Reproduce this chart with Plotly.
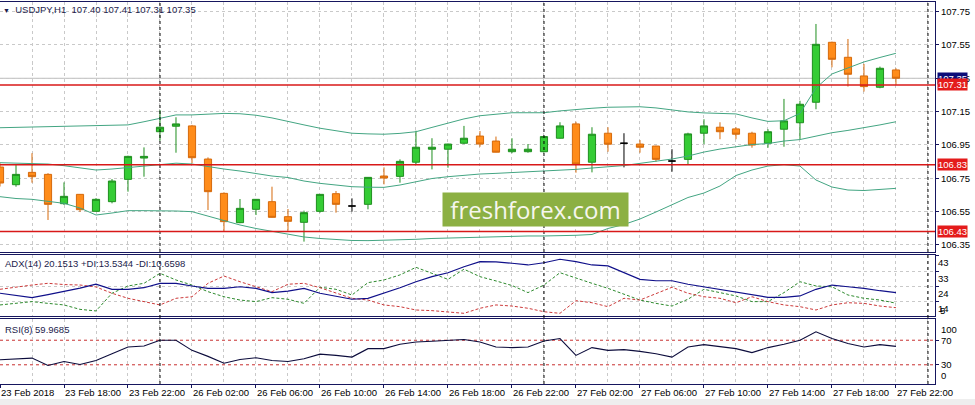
import plotly.graph_objects as go

# ---------------- data ----------------
bar_index = list(range(57))  # H1 bars from 23 Feb 14:00 to 27 Feb 22:00

open_ = [106.817, 106.711, 106.785, 106.773, 106.597, 106.653, 106.551, 106.609, 106.743, 106.871,
         107.029, 107.062, 107.064, 106.865, 106.659, 106.483, 106.563, 106.609, 106.519, 106.485,
         106.551, 106.657, 106.583, 106.593, 106.763, 106.761, 106.846, 106.924, 106.924, 106.960,
         107.003, 106.973, 106.909, 106.909, 106.909, 106.990, 107.076, 106.846, 107.020, 106.960,
         106.955, 106.943, 106.853, 106.863, 107.020, 107.056, 107.046, 107.020, 106.960, 107.044,
         107.083, 107.206, 107.566, 107.476, 107.364, 107.296, 107.40]
high = [106.840, 106.829, 106.900, 106.780, 106.725, 106.655, 106.630, 106.745, 106.885, 106.935,
        107.160, 107.116, 107.070, 106.875, 106.665, 106.625, 106.625, 106.699, 106.565, 106.555,
        106.655, 106.673, 106.629, 106.757, 106.815, 106.863, 107.035, 106.990, 106.957, 107.064,
        107.033, 107.000, 106.990, 106.955, 107.003, 107.086, 107.089, 107.056, 107.056, 107.020,
        106.979, 106.945, 106.924, 107.023, 107.104, 107.086, 107.056, 107.029, 107.044, 107.226,
        107.215, 107.676, 107.570, 107.586, 107.436, 107.420, 107.41]
low = [106.700, 106.699, 106.723, 106.499, 106.589, 106.547, 106.550, 106.599, 106.669, 106.759,
       106.975, 106.903, 106.839, 106.559, 106.433, 106.480, 106.529, 106.513, 106.435, 106.369,
       106.543, 106.543, 106.549, 106.563, 106.713, 106.723, 106.835, 106.803, 106.813, 106.955,
       106.939, 106.905, 106.900, 106.903, 106.905, 106.988, 106.783, 106.785, 106.909, 106.815,
       106.903, 106.849, 106.789, 106.835, 106.955, 106.984, 106.984, 106.933, 106.933, 106.939,
       106.984, 107.164, 107.416, 107.300, 107.270, 107.290, 107.31]
close = [106.721, 106.773, 106.759, 106.593, 106.641, 106.561, 106.623, 106.733, 106.881, 106.881,
         107.056, 107.076, 106.873, 106.669, 106.489, 106.569, 106.623, 106.515, 106.491, 106.543,
         106.653, 106.593, 106.583, 106.755, 106.751, 106.851, 106.936, 106.936, 106.955, 106.990,
         106.955, 106.906, 106.924, 106.924, 107.000, 107.064, 106.835, 107.014, 106.954, 106.960,
         106.936, 106.863, 106.853, 107.016, 107.064, 107.029, 107.014, 106.949, 107.029, 107.094,
         107.194, 107.554, 107.464, 107.374, 107.300, 107.410, 107.35]
doji_bars = [22, 39, 42]

bb_upper = [107.053, 107.055, 107.056, 107.058, 107.059, 107.062, 107.065, 107.067, 107.070, 107.089,
            107.110, 107.130, 107.130, 107.133, 107.139, 107.137, 107.128, 107.112, 107.089, 107.070,
            107.050, 107.034, 107.020, 107.016, 107.014, 107.019, 107.029, 107.055, 107.080, 107.106,
            107.125, 107.136, 107.143, 107.143, 107.143, 107.154, 107.164, 107.170, 107.176, 107.178,
            107.179, 107.172, 107.160, 107.148, 107.142, 107.140, 107.136, 107.112, 107.091, 107.095,
            107.139, 107.292, 107.376, 107.412, 107.448, 107.475, 107.500]
bb_middle = [106.843, 106.841, 106.840, 106.835, 106.825, 106.811, 106.799, 106.805, 106.813, 106.823,
             106.833, 106.840, 106.835, 106.819, 106.805, 106.793, 106.778, 106.763, 106.754, 106.733,
             106.719, 106.707, 106.699, 106.696, 106.695, 106.709, 106.727, 106.748, 106.759, 106.769,
             106.775, 106.779, 106.783, 106.789, 106.795, 106.799, 106.803, 106.811, 106.819, 106.826,
             106.839, 106.850, 106.865, 106.883, 106.907, 106.925, 106.937, 106.952, 106.958, 106.973,
             106.982, 107.003, 107.023, 107.037, 107.052, 107.070, 107.089]
bb_lower = [106.639, 106.628, 106.623, 106.613, 106.599, 106.571, 106.529, 106.541, 106.555, 106.555,
            106.555, 106.553, 106.549, 106.523, 106.493, 106.469, 106.448, 106.430, 106.415, 106.397,
            106.388, 106.382, 106.376, 106.375, 106.377, 106.380, 106.383, 106.388, 106.391, 106.394,
            106.396, 106.398, 106.401, 106.403, 106.403, 106.404, 106.407, 106.412, 106.448, 106.472,
            106.505, 106.547, 106.589, 106.634, 106.661, 106.703, 106.766, 106.799, 106.823, 106.831,
            106.823, 106.739, 106.697, 106.679, 106.676, 106.682, 106.689]

adx = [19.8, 18.4, 17.0, 18.9, 20.8, 23.1, 25.5, 22.3, 22.3, 23.3,
       26.1, 26.1, 24.4, 22.9, 22.9, 23.9, 22.9, 20.2, 21.2, 22.9,
       19.8, 18.1, 16.0, 16.6, 19.8, 23.3, 27.1, 30.3, 32.8, 36.6,
       39.8, 39.6, 38.8, 37.7, 39.1, 41.3, 39.8, 37.7, 37.1, 32.8,
       28.6, 27.7, 27.7, 25.5, 23.9, 22.3, 20.8, 19.1, 17.2, 17.2,
       18.1, 22.3, 25.0, 23.9, 22.9, 21.4, 20.15]
plus_di = [12.4, 13.4, 14.5, 13.4, 12.4, 9.6, 8.6, 19.8, 24.4, 26.1,
           32.4, 28.2, 25.0, 20.8, 17.6, 15.5, 14.5, 17.0, 16.0, 13.4,
           23.6, 22.3, 18.7, 26.5, 28.2, 31.4, 36.2, 32.4, 28.6, 35.0,
           30.3, 27.6, 24.7, 20.2, 25.0, 32.8, 29.3, 26.1, 22.9, 19.3,
           15.5, 13.4, 11.7, 16.0, 22.3, 20.2, 18.1, 14.5, 14.5, 20.2,
           27.1, 24.4, 23.9, 18.7, 16.6, 15.5, 13.53]
minus_di = [22.3, 23.8, 25.0, 26.1, 25.3, 25.0, 23.8, 19.8, 16.6, 14.5,
            12.4, 16.6, 17.6, 26.1, 30.7, 27.1, 24.0, 20.8, 25.5, 26.1,
            23.3, 19.8, 16.6, 15.5, 12.4, 11.3, 9.2, 8.8, 8.1, 7.1,
            10.3, 12.4, 11.7, 10.3, 8.1, 7.1, 15.1, 13.8, 11.3, 16.6,
            15.5, 19.8, 23.6, 19.8, 17.6, 16.6, 13.8, 17.6, 14.5, 12.4,
            11.3, 9.2, 12.4, 13.8, 13.4, 11.7, 10.66]
rsi = [38.2, 39.5, 40.9, 28.9, 35.4, 30.5, 37.1, 48.1, 59.0, 60.6,
       70.0, 70.0, 53.5, 43.7, 32.6, 38.7, 41.5, 37.1, 35.4, 39.9,
       47.4, 45.3, 42.5, 56.3, 56.3, 63.4, 67.2, 68.4, 70.0, 71.2,
       67.2, 59.0, 58.0, 59.0, 68.8, 72.8, 45.3, 58.0, 53.5, 54.7,
       51.9, 48.1, 42.5, 59.0, 62.9, 59.0, 56.3, 49.8, 58.0, 63.4,
       70.0, 83.7, 72.8, 64.6, 59.0, 62.9, 59.97]

time_tick_bars = [0, 4, 8, 12, 16, 20, 24, 28, 32, 36, 40, 44, 48, 52, 56]
time_tick_labels = ["23 Feb 2018", "23 Feb 18:00", "23 Feb 22:00", "26 Feb 02:00", "26 Feb 06:00",
                    "26 Feb 10:00", "26 Feb 14:00", "26 Feb 18:00", "26 Feb 22:00", "27 Feb 02:00",
                    "27 Feb 06:00", "27 Feb 10:00", "27 Feb 14:00", "27 Feb 18:00", "27 Feb 22:00"]
day_separator_bars = [10, 34, 58]

price_ticks = [107.75, 107.55, 107.35, 107.15, 106.95, 106.75, 106.55, 106.35]
level_prices = [107.31, 106.83, 106.43]
bid_price = 107.35

adx_ticks = [43.4, 33.75, 24.1, 14.45]
adx_tick_labels = ["43", "33", "24", "14"]
adx_min_label = "5"
rsi_levels = [70, 30]
rsi_edge_labels = [(100, "100"), (0, "0")]

title_text = "USDJPY,H1  107.40 107.41 107.31 107.35"
adx_text = "ADX(14) 20.1513 +DI:13.5344 -DI:10.6598"
rsi_text = "RSI(8) 59.9685"
watermark = "freshforex.com"

# ---------------- styles ----------------
BORDER = "#16165e"
GRID = "#c9c9c9"
GREEN_FILL = "#35cc35"
GREEN_EDGE = "#1f8f1f"
ORANGE_FILL = "#ff8c1a"
ORANGE_EDGE = "#d66a0c"
BAND = "#43a582"
RED = "#d81818"
LABEL_RED = "#e41b1b"
NAVY = "#0c0c78"
TXT = "#1c1c4c"
FONT = "Liberation Sans, Arial, sans-serif"

fig = go.Figure()

# Bollinger bands
for band in (bb_upper, bb_middle, bb_lower):
    fig.add_trace(go.Scatter(x=bar_index, y=band, mode="lines", xaxis="x2", yaxis="y",
                             line=dict(color=BAND, width=1), hoverinfo="skip"))

normal = [i for i in bar_index if i not in doji_bars]
fig.add_trace(go.Candlestick(
    x=[bar_index[i] for i in normal],
    open=[open_[i] for i in normal], high=[high[i] for i in normal],
    low=[low[i] for i in normal], close=[close[i] for i in normal],
    xaxis="x2", yaxis="y", whiskerwidth=0, hoverinfo="skip",
    increasing=dict(line=dict(color=GREEN_EDGE, width=1), fillcolor=GREEN_FILL),
    decreasing=dict(line=dict(color=ORANGE_EDGE, width=1), fillcolor=ORANGE_FILL)))
fig.add_trace(go.Candlestick(
    x=[bar_index[i] for i in doji_bars],
    open=[open_[i] for i in doji_bars], high=[high[i] for i in doji_bars],
    low=[low[i] for i in doji_bars], close=[close[i] for i in doji_bars],
    xaxis="x2", yaxis="y", whiskerwidth=0, hoverinfo="skip",
    increasing=dict(line=dict(color="black", width=1), fillcolor="black"),
    decreasing=dict(line=dict(color="black", width=1), fillcolor="black")))

# ADX pane
fig.add_trace(go.Scatter(x=bar_index, y=plus_di, mode="lines", xaxis="x3", yaxis="y2",
                         line=dict(color="#2e8a2e", width=1, dash="3px,2px"), hoverinfo="skip"))
fig.add_trace(go.Scatter(x=bar_index, y=minus_di, mode="lines", xaxis="x3", yaxis="y2",
                         line=dict(color="#cc3a3a", width=1, dash="3px,2px"), hoverinfo="skip"))
fig.add_trace(go.Scatter(x=bar_index, y=adx, mode="lines", xaxis="x3", yaxis="y2",
                         line=dict(color="#10108a", width=1.2), hoverinfo="skip"))
# RSI pane
fig.add_trace(go.Scatter(x=bar_index, y=rsi, mode="lines", xaxis="x", yaxis="y3",
                         line=dict(color="#0c0c3c", width=1.1), hoverinfo="skip"))

xgrid = dict(showgrid=True, gridcolor=GRID, griddash="3px,3px", gridwidth=1,
             minor=dict(tick0=0, dtick=2, showgrid=True, gridcolor=GRID, griddash="3px,3px", ticks=""),
             showline=True, linecolor=BORDER, linewidth=1, mirror=True, zeroline=False,
             range=[0, 58.44], tickmode="array", tickvals=time_tick_bars,
             rangeslider=dict(visible=False), fixedrange=True)

shapes = []
shapes.append(dict(type="line", xref="paper", yref="y", x0=0, x1=1, y0=bid_price, y1=bid_price,
                   line=dict(color="#bdbdbd", width=1), layer="below"))
for lv in rsi_levels:
    shapes.append(dict(type="line", xref="paper", yref="y3", x0=0, x1=1, y0=lv, y1=lv,
                       line=dict(color="#c83030", width=1, dash="3px,3px"), layer="below"))
for b in day_separator_bars:
    shapes.append(dict(type="line", xref="x", yref="paper", x0=b, x1=b, y0=0, y1=0.996,
                       line=dict(color="black", width=1, dash="3px,3px"), layer="above"))
for p in level_prices:
    shapes.append(dict(type="line", xref="paper", yref="y", x0=0, x1=1, y0=p, y1=p,
                       line=dict(color=RED, width=1.5), layer="above"))
shapes.append(dict(type="rect", xref="paper", yref="paper", x0=0, x1=975 / 935,
                   y0=1 - 405 / 384, y1=1 - 399 / 384, fillcolor="#eeeeee", line=dict(width=0)))

annotations = [
    dict(xref="paper", yref="paper", x=0, y=1 - 9 / 384, xshift=1, xanchor="left", yanchor="middle",
         text="<span style='font-size:7px'>▼</span>  " + title_text, showarrow=False,
         font=dict(family=FONT, size=9.5, color=TXT)),
    dict(xref="paper", yref="paper", x=0, y=1 - 263.5 / 384, xshift=3, xanchor="left", yanchor="middle",
         text=adx_text, showarrow=False, font=dict(family=FONT, size=9.5, color=TXT)),
    dict(xref="paper", yref="paper", x=0, y=1 - 329 / 384, xshift=3, xanchor="left", yanchor="middle",
         text=rsi_text, showarrow=False, font=dict(family=FONT, size=9.5, color=TXT)),
    dict(xref="paper", yref="y", x=1, y=bid_price, xshift=2, xanchor="left", yanchor="middle",
         text=f"{bid_price:.2f}", showarrow=False, bgcolor=NAVY, borderpad=0,
         font=dict(family=FONT, size=9.5, color="white")),
]
for p in level_prices:
    annotations.append(dict(xref="paper", yref="y", x=1, y=p, xshift=2, xanchor="left", yanchor="middle",
                            text=f"{p:.2f}", showarrow=False, bgcolor=LABEL_RED, borderpad=0,
                            font=dict(family=FONT, size=9.5, color="white")))
for v, t in rsi_edge_labels:
    annotations.append(dict(xref="paper", yref="y3", x=1, y=v, xshift=4, xanchor="left",
                            yanchor="top" if v > 50 else "bottom", text=t, showarrow=False,
                            font=dict(family=FONT, size=9.5, color="black")))
annotations.append(dict(xref="paper", yref="y2", x=1, y=adx_ticks[-1], xshift=3, yshift=-1,
                        xanchor="left", yanchor="top", text=adx_min_label, showarrow=False,
                        font=dict(family=FONT, size=9.5, color="black")))
annotations.append(dict(xref="paper", yref="paper", x=535 / 935, y=1 - 209 / 384, xanchor="center",
                        yanchor="middle", text=watermark, showarrow=False, bgcolor="#8cb043",
                        width=185, height=33, borderpad=0,
                        font=dict(family="Open Sans", size=24, color="#f6f6ee")))

fig.update_layout(
    width=975, height=405, margin=dict(l=0, r=40, t=0, b=21),
    paper_bgcolor="white", plot_bgcolor="white", showlegend=False, boxgap=0.36,
    font=dict(family=FONT, size=9.5, color="black"),
    xaxis=dict(anchor="y3", domain=[0, 1], ticktext=time_tick_labels, showticklabels=True,
               ticklabelposition="outside right", tickangle=0, ticks="outside", ticklen=3,
               tickcolor=BORDER, **xgrid),
    xaxis2=dict(anchor="y", domain=[0, 1], matches="x", showticklabels=False, ticks="", **xgrid),
    xaxis3=dict(anchor="y2", domain=[0, 1], matches="x", showticklabels=False, ticks="", **xgrid),
    yaxis=dict(domain=[1 - 252.3 / 384, 1 - 1.5 / 384], range=[106.305, 107.811], side="right",
               tickmode="array", tickvals=price_ticks, ticktext=[f"{p:.2f}" for p in price_ticks],
               ticks="outside", ticklen=3, tickcolor=BORDER, showline=True, linecolor=BORDER,
               showgrid=True, gridcolor=GRID, griddash="3px,3px", zeroline=False, fixedrange=True),
    yaxis2=dict(domain=[1 - 316.3 / 384, 1 - 255.3 / 384], range=[5.21, 43.82], side="right",
                tickmode="array", tickvals=adx_ticks, ticktext=adx_tick_labels,
                ticklabelposition="outside bottom",
                ticks="outside", ticklen=3, tickcolor=BORDER, showline=True, linecolor=BORDER,
                showgrid=True, gridcolor=GRID, griddash="3px,3px", zeroline=False, fixedrange=True),
    yaxis3=dict(domain=[0.0, 1 - 319.3 / 384], range=[-1.3, 104.1], side="right",
                tickmode="array", tickvals=rsi_levels, ticktext=[str(v) for v in rsi_levels],
                ticks="outside", ticklen=3, tickcolor=BORDER, showline=True, linecolor=BORDER,
                showgrid=False, zeroline=False, fixedrange=True),
    shapes=shapes, annotations=annotations,
)

# remove the browser's default 8px page margin so the figure sits at the window origin
fig.write_html("out.html", config={"displayModeBar": False, "staticPlot": True},
               post_script="document.body.style.margin='0px';")
